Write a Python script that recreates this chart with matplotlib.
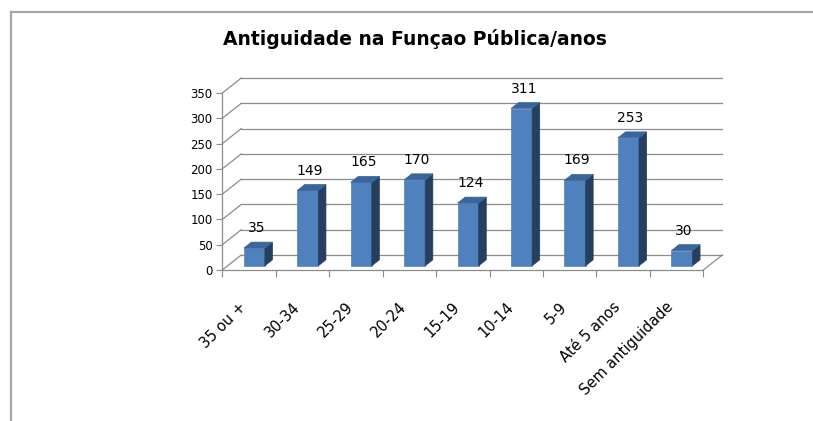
import matplotlib.pyplot as plt
from matplotlib.patches import Polygon
from matplotlib.lines import Line2D

# dados
categorias = ['35 ou +', '30-34', '25-29', '20-24', '15-19', '10-14', '5-9',
              'Até 5 anos', 'Sem antiguidade']
valores = [35, 149, 165, 170, 124, 311, 169, 253, 30]
y_ticks = [0, 50, 100, 150, 200, 250, 300, 350]
titulo = 'Antiguidade na Funçao Pública/anos'

W, H = 813, 421
fig = plt.figure(figsize=(W / 100, H / 100), dpi=100)
plt.rcParams['font.family'] = ['DejaVu Sans']

# plano da frente da caixa 3D (pixels)
x0px, x1px, y0px, y1px = 222.3, 703.3, 270, 93
ax = fig.add_axes([x0px / W, (H - y0px) / H, (x1px - x0px) / W, (y0px - y1px) / H])
n = len(categorias)
ymax = y_ticks[-1]
ax.set_xlim(0, n)
ax.set_ylim(0, ymax)

# profundidade (px -> unidades dos dados)
ddx = 19 / (x1px - x0px) * n
ddy = 15 / (y0px - y1px) * ymax

cinza = '#8C8C8C'
# parede do fundo e lado esquerdo
for v in y_ticks:
    ax.plot([ddx, n + ddx], [v + ddy, v + ddy], color=cinza, lw=0.9, clip_on=False, zorder=1)
    ax.plot([0, ddx], [v, v + ddy], color=cinza, lw=0.9, clip_on=False, zorder=1)
# chão lado direito
ax.plot([n, n + ddx], [0, ddy], color=cinza, lw=0.9, clip_on=False, zorder=1)

# barras
bw, d0, bd = 0.395, 0.28, 0.40
c_frente, c_lado, c_topo = '#4F81BD', '#263F5F', '#3B669C'
for i, v in enumerate(valores):
    xl = i + 0.5 - bw / 2 + d0 * ddx
    yb = d0 * ddy
    xr = xl + bw
    px, py = bd * ddx, bd * ddy
    frente = [(xl, yb), (xr, yb), (xr, yb + v), (xl, yb + v)]
    lado = [(xr, yb), (xr + px, yb + py), (xr + px, yb + v + py), (xr, yb + v)]
    topo = [(xl, yb + v), (xr, yb + v), (xr + px, yb + v + py), (xl + px, yb + v + py)]
    for pts, c in [(frente, c_frente), (lado, c_lado), (topo, c_topo)]:
        ax.add_patch(Polygon(pts, closed=True, facecolor=c, edgecolor=c, lw=0.5,
                             clip_on=False, zorder=3))
    ax.annotate(str(v), xy=(i + 0.5 + 0.14, yb + v + py), xytext=(0, 10),
                textcoords='offset points', ha='center', va='center',
                fontsize=10, zorder=4)

# eixos
for s in ['top', 'right']:
    ax.spines[s].set_visible(False)
for s in ['left', 'bottom']:
    ax.spines[s].set_color(cinza)
    ax.spines[s].set_linewidth(0.9)
ax.set_yticks(y_ticks)
ax.tick_params(axis='y', length=4, color=cinza, labelsize=8.5, pad=3)
ax.set_xticks(range(n + 1))
ax.set_xticklabels([])
ax.set_xticks([i + 0.5 for i in range(n)], minor=True)
ax.set_xticklabels(categorias, minor=True, rotation=45, ha='right', va='top')
ax.tick_params(axis='x', which='major', length=5, color=cinza)
ax.tick_params(axis='x', which='minor', length=0, pad=21, labelsize=10.5)
ax.patch.set_visible(False)

# título e moldura
fig.text(415 / W, 1 - 39 / H, titulo, ha='center', va='center', fontsize=13.5,
         fontweight='bold')
fig.add_artist(Line2D([11 / W, 812 / W], [1 - 12 / H] * 2, color='#A6A6A6', lw=1.6))
fig.add_artist(Line2D([11 / W, 11 / W], [1 - 12 / H, 0], color='#A6A6A6', lw=1.6))

fig.savefig('out.png', dpi=100)
